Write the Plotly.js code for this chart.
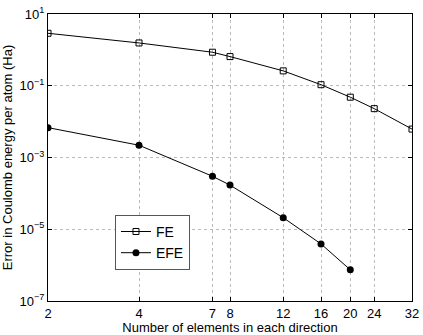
<!DOCTYPE html>
<html>
<head>
<meta charset="utf-8">
<script src="https://cdn.plot.ly/plotly-3.0.1.min.js"></script>
<style>
  html, body { margin: 0; padding: 0; background: #fff; }
  #chart { width: 423px; height: 335px; }
</style>
</head>
<body>
<div id="chart"></div>
<script>
// values (log-log plot)
var elements = [2, 4, 7, 8, 12, 16, 20, 24, 32];
var feError = [2.9, 1.56, 0.86, 0.65, 0.26, 0.107, 0.048, 0.023, 0.0062];
var efeElements = [2, 4, 7, 8, 12, 16, 20];
var efeError = [0.0068, 0.0022, 3.0e-4, 1.7e-4, 2.1e-5, 3.9e-6, 7.4e-7];

var xTickVals = [2, 4, 7, 8, 12, 16, 20, 24, 32];
var yTickVals = [10, 0.1, 1e-3, 1e-5, 1e-7];
var yTickText = ['10<sup>1</sup>', '10<sup>\u22121</sup>', '10<sup>\u22123</sup>', '10<sup>\u22125</sup>', '10<sup>\u22127</sup>'];

var feTrace = {
    x: elements,
    y: feError,
    name: 'FE',
    mode: 'lines+markers',
    type: 'scatter',
    line: {color: '#000', width: 1},
    marker: {symbol: 'square-open', size: 6, color: '#000', line: {width: 1}}
};

var efeTrace = {
    x: efeElements,
    y: efeError,
    name: 'EFE',
    mode: 'lines+markers',
    type: 'scatter',
    line: {color: '#000', width: 1},
    marker: {symbol: 'circle', size: 7, color: '#000'}
};

var axisFont = {family: 'Liberation Sans, Arial, sans-serif', size: 13, color: '#000'};

var layout = {
    width: 423,
    height: 335,
    margin: {l: 48, r: 11, t: 14, b: 34},
    paper_bgcolor: '#fff',
    plot_bgcolor: '#fff',
    font: axisFont,
    showlegend: true,
    legend: {
        x: 0.184, y: 0.30, xanchor: 'left', yanchor: 'top',
        bordercolor: '#555', borderwidth: 1, bgcolor: '#fff',
        font: {family: 'Liberation Sans, Arial, sans-serif', size: 14, color: '#000'},
        itemwidth: 30,
        tracegroupgap: 0
    },
    xaxis: {
        type: 'log',
        range: [Math.log10(2), Math.log10(32)],
        tickvals: xTickVals,
        ticktext: xTickVals.map(String),
        ticks: 'inside', ticklen: 4, tickcolor: '#000',
        showline: true, linecolor: '#000', linewidth: 1, mirror: 'ticks',
        showgrid: true, gridcolor: '#bbb', griddash: 'dot', gridwidth: 1,
        zeroline: false,
        title: {text: 'Number of elements in each direction', font: axisFont, standoff: 2}
    },
    yaxis: {
        type: 'log',
        range: [-7, 1],
        tickvals: yTickVals,
        ticktext: yTickText,
        ticks: 'inside', ticklen: 4, tickcolor: '#000',
        showline: true, linecolor: '#000', linewidth: 1, mirror: 'ticks',
        showgrid: true, gridcolor: '#bbb', griddash: 'dot', gridwidth: 1,
        zeroline: false,
        title: {text: 'Error in Coulomb energy per atom (Ha)', font: axisFont, standoff: 4}
    }
};

Plotly.newPlot('chart', [feTrace, efeTrace], layout, {displayModeBar: false, staticPlot: true});
</script>
</body>
</html>
